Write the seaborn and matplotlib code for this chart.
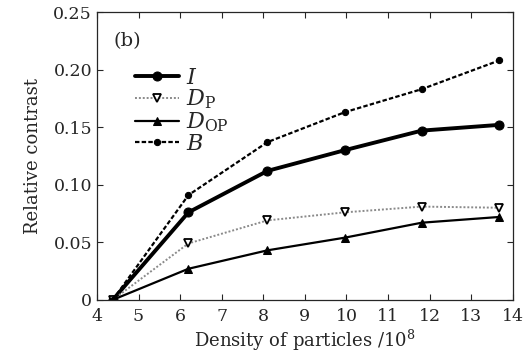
import matplotlib
matplotlib.use("Agg")
import matplotlib.pyplot as plt
import seaborn as sns
import pandas as pd

density = [4.38, 6.2, 8.1, 9.96, 11.81, 13.68]
I_vals = [0.0, 0.076, 0.112, 0.130, 0.147, 0.152]
DP_vals = [0.0, 0.049, 0.069, 0.076, 0.081, 0.080]
DOP_vals = [0.0, 0.027, 0.043, 0.054, 0.067, 0.072]
B_vals = [0.0, 0.091, 0.137, 0.163, 0.183, 0.208]
labels = [r"$I$", r"$D_{\mathrm{P}}$", r"$D_{\mathrm{OP}}$", r"$B$"]
xticks = [4, 5, 6, 7, 8, 9, 10, 11, 12, 13, 14]
yticks = [0, 0.05, 0.10, 0.15, 0.20, 0.25]
yticklabels = ["0", "0.05", "0.10", "0.15", "0.20", "0.25"]

sns.set_style("ticks")
plt.rcParams["font.family"] = ["DejaVu Serif"]
plt.rcParams["mathtext.fontset"] = "dejavuserif"

fig = plt.figure(figsize=(5.27, 3.54), dpi=100)
ax = fig.add_axes([0.184, 0.153, 0.789, 0.813])

styles = [
    dict(color="black", linewidth=2.8, linestyle="-", marker="o", markersize=6.5,
         markerfacecolor="black", markeredgecolor="black"),
    dict(color="#8a8a8a", linewidth=1.4, linestyle=(0, (1, 1)), marker="v", markersize=5.5,
         markerfacecolor="white", markeredgecolor="black", markeredgewidth=1.3),
    dict(color="black", linewidth=1.6, linestyle="-", marker="^", markersize=6,
         markerfacecolor="black", markeredgecolor="black"),
    dict(color="black", linewidth=1.6, linestyle=(0, (2, 1)), marker="o", markersize=4.5,
         markerfacecolor="black", markeredgecolor="black"),
]
series = [I_vals, DP_vals, DOP_vals, B_vals]
for vals, lab, st in zip(series, labels, styles):
    df = pd.DataFrame({"x": density, "y": vals})
    sns.lineplot(data=df, x="x", y="y", ax=ax, label=lab, **st)

ax.set_xlim(4, 14)
ax.set_ylim(0, 0.25)
ax.set_xticks(xticks)
ax.set_yticks(yticks)
ax.set_yticklabels(yticklabels)
ax.tick_params(direction="in", top=True, right=True, labelsize=12.5, length=4, width=0.8)
ax.tick_params(axis="x", pad=6)
for s in ax.spines.values():
    s.set_linewidth(0.9)
ax.set_xlabel(r"Density of particles /10$^{8}$", fontsize=13, labelpad=2)
ax.set_ylabel("Relative contrast", fontsize=13, labelpad=8)

ax.text(0.04, 0.93, "(b)", transform=ax.transAxes, fontsize=14, va="top", ha="left")

leg = ax.legend(loc="upper left", bbox_to_anchor=(0.07, 0.84), frameon=False,
                fontsize=16, handlelength=2.0, labelspacing=-0.05, handletextpad=0.3,
                borderaxespad=0)

fig.savefig("out.png", dpi=100)
